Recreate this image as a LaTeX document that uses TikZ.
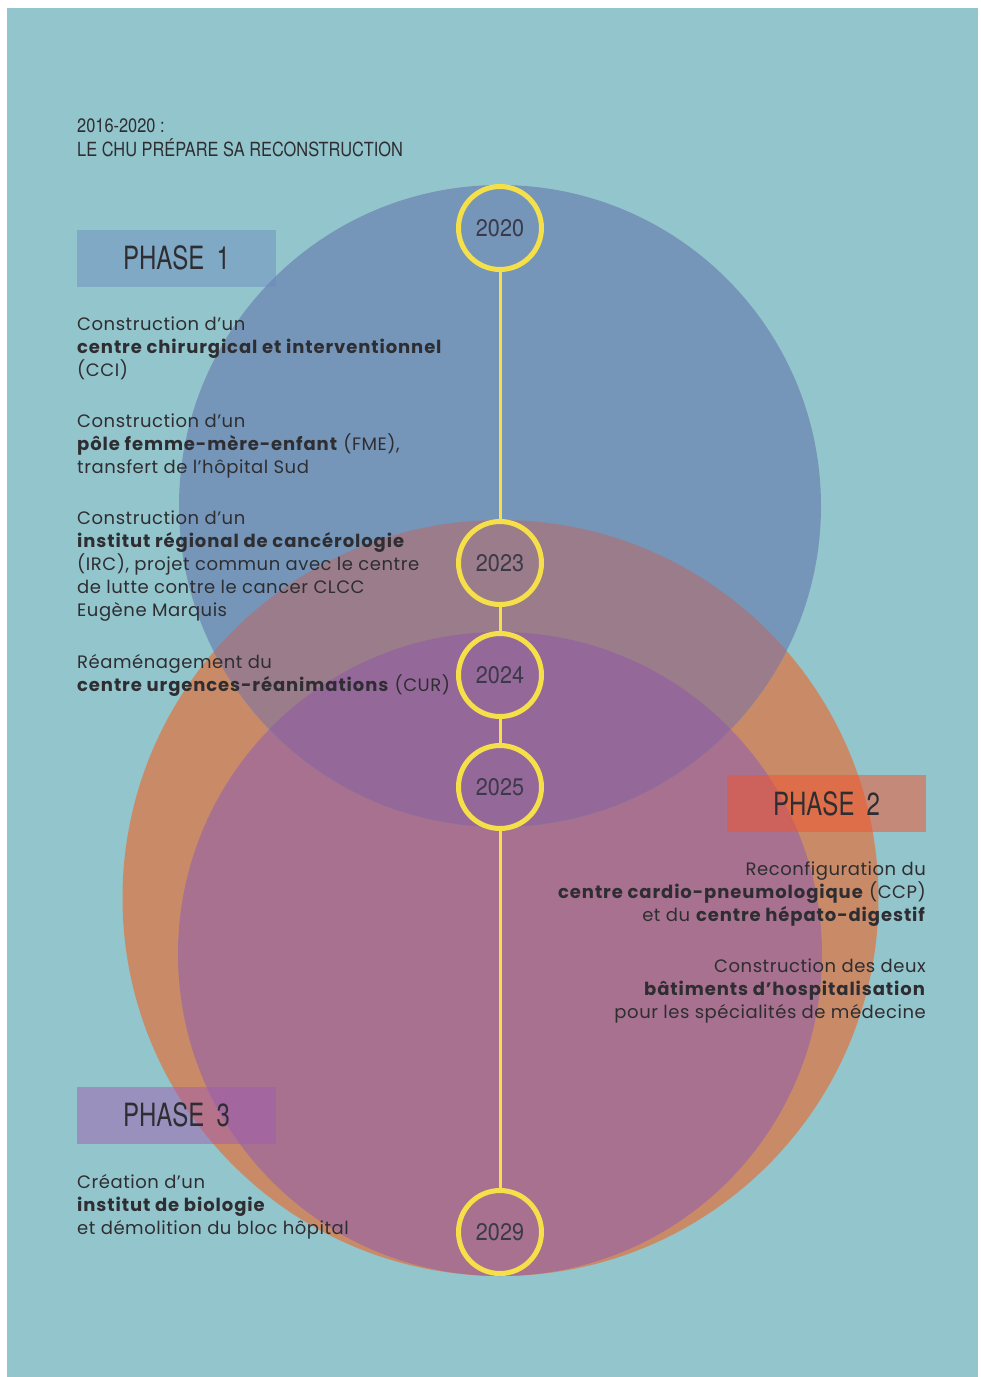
\documentclass[tikz,border=0pt]{standalone}
\usepackage{fontspec}
\setmainfont{Poppins}[LetterSpace=3,BoldFeatures={LetterSpace=5}]
\newfontfamily\condfont[FakeStretch=0.75]{TeX Gyre Heros}
\newfontfamily\headfont[FakeStretch=0.84]{TeX Gyre Heros}
\newfontfamily\yearfont[FakeStretch=0.9]{TeX Gyre Heros}
\definecolor{cBg}{HTML}{93C5CC}
\definecolor{cBl}{HTML}{7596B9}
\definecolor{cOr}{HTML}{C98B67}
\definecolor{cPk}{HTML}{A7718F}
\definecolor{cBO}{HTML}{9A7C8B}
\definecolor{cBP}{HTML}{95689A}
\definecolor{cYel}{HTML}{F6E04A}
\definecolor{cTxt}{HTML}{2E2E32}
\definecolor{cYr}{HTML}{3A3A48}
\definecolor{cPh1}{HTML}{6A88BE}
\definecolor{cPh2}{HTML}{F05530}
\definecolor{cPh3}{HTML}{A05CB0}
\tikzset{
  yr/.style={circle, draw=cYel, line width=5pt, minimum size=83pt, inner sep=0pt,
    text=cYr, font=\yearfont\fontsize{24}{24}\selectfont},
  link/.style={draw=cYel, line width=3pt},
  phasebox/.style={minimum width=199pt, minimum height=57pt, inner sep=0pt,
    text=cTxt, text opacity=1, font=\condfont\fontsize{32}{32}\selectfont},
  body/.style={inner sep=0pt, text=cTxt, font=\fontsize{18}{23}\selectfont},
  head/.style={inner sep=0pt, text=cTxt, align=left, font=\headfont\fontsize{19.5}{24}\selectfont}
}
\begin{document}
\begin{tikzpicture}[x=1pt,y=-1pt]
\useasboundingbox (0,0) rectangle (981,1377);
\fill[white] (0,0) rectangle (981,1377);
\fill[cBg] (7,8) rectangle (978,1377);
% circles
\coordinate (B) at (500,506);
\coordinate (O) at (500.5,898);
\coordinate (P) at (500,954);
\fill[cOr] (O) circle (378pt);
\fill[cPk] (P) circle (322pt);
\fill[cBl] (B) circle (321pt);
\begin{scope}
  \clip (B) circle (321pt);
  \fill[cBO] (O) circle (378pt);
  \fill[cBP] (P) circle (322pt);
\end{scope}
% header
\node[head, anchor=north west] (hd) at (77,118) {2016-2020 :\\LE CHU PRÉPARE SA RECONSTRUCTION};
% phase boxes
\node[phasebox, fill=cPh1, fill opacity=0.45] (ph1) at (176.5,258) {PHASE\ \,1};
\node[phasebox, fill=cPh2, fill opacity=0.53] (ph2) at (826.5,803.5) {PHASE\ \,2};
\node[phasebox, fill=cPh3, fill opacity=0.5] (ph3) at (176.5,1115) {PHASE\ \,3};
% year timeline
\node[yr] (y2020) at (500,228) {2020};
\node[yr] (y2023) at (500,563) {2023};
\node[yr] (y2024) at (500,675) {2024};
\node[yr] (y2025) at (500,787) {2025};
\node[yr] (y2029) at (500,1232) {2029};
\draw[link] (y2020) -- (y2023);
\draw[link] (y2023) -- (y2024);
\draw[link] (y2024) -- (y2025);
\draw[link] (y2025) -- (y2029);
% phase 1 texts
\node[body, anchor=north west, align=left] (t1) at (77,317) {Construction d'un\\\textbf{centre chirurgical et interventionnel}\\(CCI)};
\node[body, anchor=north west, align=left] (t2) at (77,414) {Construction d'un\\\textbf{pôle femme-mère-enfant} (FME),\\transfert de l'hôpital Sud};
\node[body, anchor=north west, align=left] (t3) at (77,511) {Construction d'un\\\textbf{institut régional de cancérologie}\\(IRC), projet commun avec le centre\\de lutte contre le cancer CLCC\\Eugène Marquis};
\node[body, anchor=north west, align=left] (t4) at (77,654) {Réaménagement du\\\textbf{centre urgences-réanimations} (CUR)};
% phase 2 texts
\node[body, anchor=north east, align=right] (t5) at (926,862) {Reconfiguration du\\\textbf{centre cardio-pneumologique} (CCP)\\et du \textbf{centre hépato-digestif}};
\node[body, anchor=north east, align=right] (t6) at (926,959) {Construction des deux\\\textbf{bâtiments d'hospitalisation}\\pour les spécialités de médecine};
% phase 3 texts
\node[body, anchor=north west, align=left] (t7) at (77,1174) {Création d'un\\\textbf{institut de biologie}\\et démolition du bloc hôpital};
\end{tikzpicture}
\end{document}
